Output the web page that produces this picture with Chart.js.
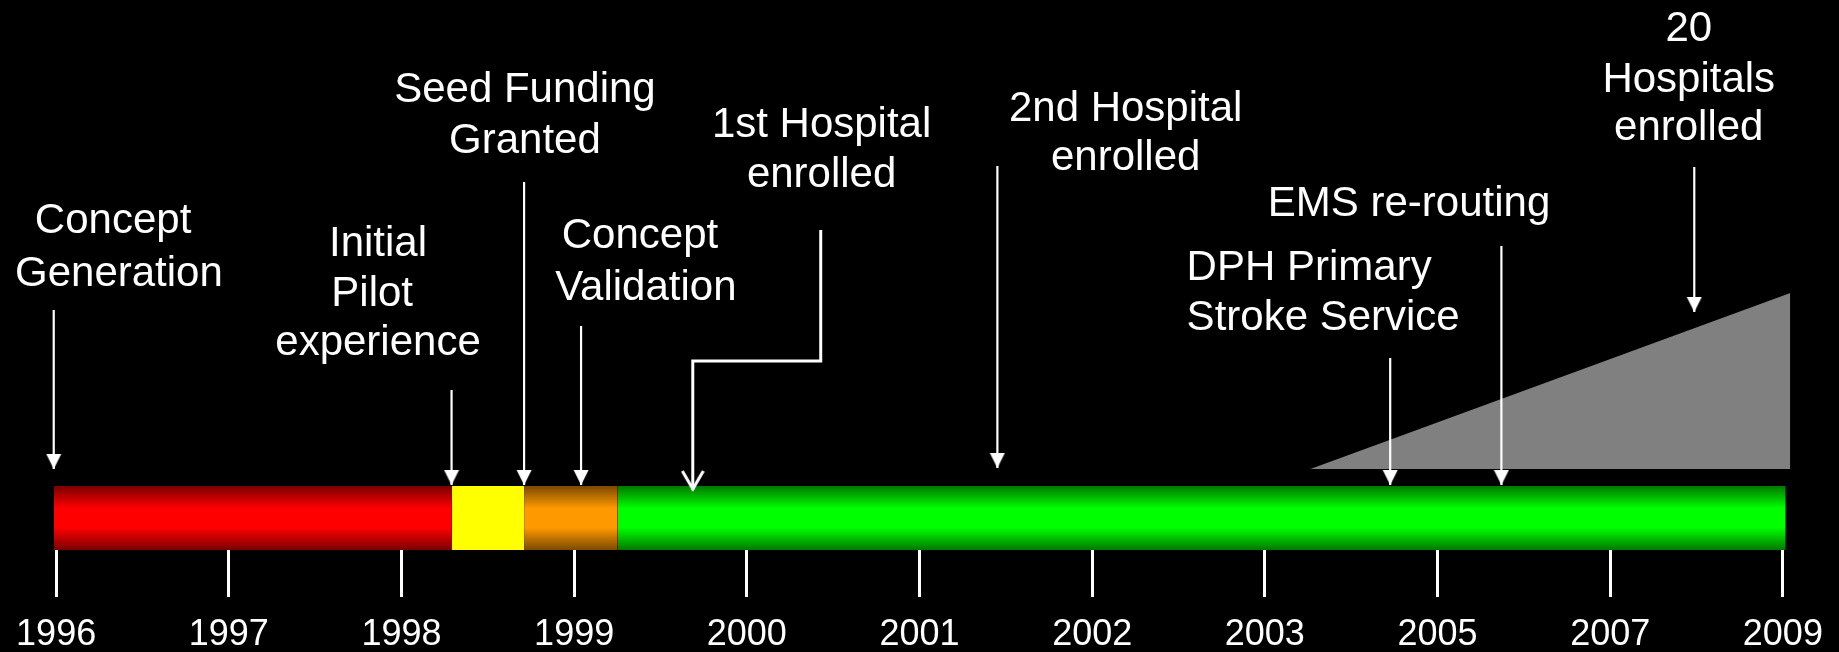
<!DOCTYPE html>
<html>
<head>
<meta charset="utf-8">
<title>Stroke service timeline</title>
<script src="https://cdn.jsdelivr.net/npm/chart.js@4.4.1/dist/chart.umd.min.js"></script>
<style>
    html, body { margin: 0; padding: 0; background: #000; }
    #timeline { display: block; }
</style>
</head>
<body>
<canvas id="timeline" width="1839" height="652"></canvas>
<script>
// Tick labels (evenly spaced, the axis jumps after 2003)
const yearLabels = ["1996", "1997", "1998", "1999", "2000", "2001", "2002", "2003", "2005", "2007", "2009"];

// Coloured phases of the timeline bar (in tick units)
const phaseNames = ["Concept", "Pilot", "Funding", "Roll-out"];
const phaseStart = [-0.014, 2.29, 2.71, 3.25];
const phaseEnd = [2.29, 2.71, 3.25, 10.014];
const barTop = 12.8;

// Grey wedge: hospitals enrolled growing towards 2009
const hospitalX = [7.264, 10.043];
const hospitalY = [16.2, 51.4];

// Milestones: where the arrow points on the axis, where it starts and stops
const eventNames = [
    "Concept Generation", "Initial Pilot experience", "Seed Funding Granted",
    "Concept Validation", "1st Hospital enrolled", "2nd Hospital enrolled",
    "DPH Primary Stroke Service", "EMS re-routing", "20 Hospitals enrolled",
];
const eventAt = [-0.014, 2.29, 2.71, 3.04, 3.687, 5.451, 7.726, 8.37, 9.487];
const arrowTop = [48, 32, 73.6, 44.8, 64, 76.8, 38.4, 60.8, 76.6];
const arrowTip = [16.2, 13, 13, 13, 12, 16.4, 13, 13, 47.6];
// the 1st hospital arrow has an elbow
const elbowX = 4.428;
const elbowY = 37.8;

// Label text and placement
const eventLines = [
    ["Concept ", "Generation"],
    ["Initial", "Pilot ", "experience"],
    ["Seed Funding", "Granted"],
    ["Concept ", "Validation"],
    ["1st Hospital", "enrolled"],
    ["2nd Hospital", "enrolled"],
    ["DPH Primary", "Stroke Service"],
    ["EMS re-routing"],
    ["20", "Hospitals", "enrolled"],
];
const labelX = [0.3635, 1.864, 2.715, 3.415, 4.433, 6.194, 6.547, 7.835, 9.455];
const labelBase = [
    [63.5, 52.8], [58.8, 48.8, 39], [89.66, 79.46], [60.4, 50],
    [82.66, 72.54], [85.8, 76], [54, 44.1], [66.8], [101.86, 91.66, 82],
];
const labelAlign = ["center", "center", "center", "center", "center", "center", "left", "center", "center"];

// Colours
const phaseEdge = ["#7a0000", "#ffff00", "#7c4a00", "#007800"];
const phaseMid = ["#ff0000", "#ffff00", "#ff9900", "#00ff00"];
const FONT = "'Liberation Sans', Arial, sans-serif";

// Vertical shading of the bar
function barGradient(chart, edge, mid) {
    const area = chart.chartArea;
    if (!area) return mid;
    const y = chart.scales.y;
    const g = chart.ctx.createLinearGradient(0, y.getPixelForValue(barTop), 0, y.getPixelForValue(0));
    g.addColorStop(0, edge);
    g.addColorStop(0.35, mid);
    g.addColorStop(0.65, mid);
    g.addColorStop(1, edge);
    return g;
}

// Arrow heads as little images, tip at the image centre
function makeHead(open) {
    const c = document.createElement("canvas");
    const g = c.getContext("2d");
    if (open) {
        c.width = 24;
        c.height = 40;
        g.strokeStyle = "#fff";
        g.lineWidth = 3;
        g.beginPath();
        g.moveTo(1.5, 1);
        g.lineTo(12, 19);
        g.lineTo(22.5, 1);
        g.stroke();
    } else {
        c.width = 16;
        c.height = 30;
        g.fillStyle = "#fff";
        g.beginPath();
        g.moveTo(0.5, 0);
        g.lineTo(15.5, 0);
        g.lineTo(8, 15);
        g.closePath();
        g.fill();
    }
    return c;
}
const headSolid = makeHead(false);
const headOpen = makeHead(true);

const phaseSets = phaseStart.map((s, i) => ({
    label: phaseNames[i],
    data: [{ x: s, y: barTop }, { x: phaseEnd[i], y: barTop }],
    borderColor: "rgba(0,0,0,0)",
    borderWidth: 0,
    pointRadius: 0,
    fill: "origin",
    backgroundColor: (ctx) => barGradient(ctx.chart, phaseEdge[i], phaseMid[i]),
    order: 2,
}));

const hospitalSet = {
    label: "Hospitals enrolled",
    data: hospitalX.map((x, i) => ({ x: x, y: hospitalY[i] })),
    borderColor: "rgba(0,0,0,0)",
    borderWidth: 0,
    pointRadius: 0,
    fill: { value: hospitalY[0] },
    backgroundColor: "#808080",
    order: 1,
};

const arrowSets = eventAt.map((x, i) => {
    let pts = [{ x: x, y: arrowTop[i] }, { x: x, y: arrowTip[i] }];
    const elbow = i === 4;
    if (elbow) {
        pts = [
            { x: elbowX, y: arrowTop[i] },
            { x: elbowX, y: elbowY },
            { x: x, y: elbowY },
            { x: x, y: arrowTip[i] },
        ];
    }
    return {
        label: eventNames[i],
        data: pts,
        borderColor: "#fff",
        borderWidth: elbow ? 3 : 2.2,
        fill: false,
        pointStyle: elbow ? headOpen : headSolid,
        pointRadius: (ctx) => (ctx.dataIndex === pts.length - 1 ? 8 : 0),
        order: 0,
    };
});

// Black page
const blackBackground = {
    id: "blackBackground",
    beforeDraw(chart) {
        const ctx = chart.ctx;
        ctx.save();
        ctx.fillStyle = "#000";
        ctx.fillRect(0, 0, chart.width, chart.height);
        ctx.restore();
    },
};

// Milestone captions
const eventLabels = {
    id: "eventLabels",
    afterDatasetsDraw(chart) {
        const { ctx, scales: { x, y } } = chart;
        ctx.save();
        ctx.fillStyle = "#fff";
        ctx.font = "42px " + FONT;
        ctx.textBaseline = "alphabetic";
        eventLines.forEach((lines, i) => {
            ctx.textAlign = labelAlign[i];
            lines.forEach((t, j) => {
                ctx.fillText(t, x.getPixelForValue(labelX[i]), y.getPixelForValue(labelBase[i][j]));
            });
        });
        ctx.restore();
    },
};

new Chart(document.getElementById("timeline"), {
    type: "line",
    data: { datasets: [...arrowSets, hospitalSet, ...phaseSets] },
    options: {
        responsive: false,
        maintainAspectRatio: false,
        animation: false,
        events: [],
        layout: { autoPadding: false, padding: { left: 4, right: 4, top: 0, bottom: 0 } },
        plugins: { legend: { display: false }, tooltip: { enabled: false } },
        scales: {
            x: {
                type: "linear",
                min: -0.3,
                max: 10.3,
                afterBuildTicks: (axis) => {
                    axis.ticks = yearLabels.map((_, i) => ({ value: i }));
                },
                afterFit: (axis) => {
                    axis.height = 102;
                },
                border: { display: false },
                grid: {
                    drawOnChartArea: false,
                    drawTicks: true,
                    tickLength: 47,
                    tickWidth: 3,
                    tickColor: "#fff",
                },
                ticks: {
                    color: "#fff",
                    font: { family: FONT, size: 36 },
                    padding: 16,
                    autoSkip: false,
                    maxRotation: 0,
                    callback: (value) => yearLabels[value],
                },
            },
            y: { type: "linear", display: false, min: 0, max: 110 },
        },
    },
    plugins: [blackBackground, eventLabels],
});
</script>
</body>
</html>
